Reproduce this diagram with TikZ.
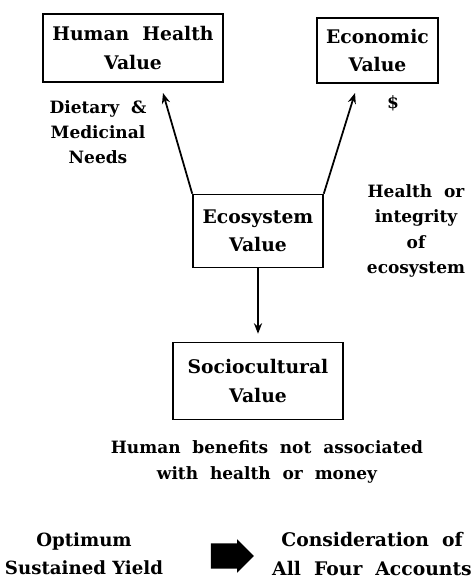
\documentclass[tikz,border=0pt]{standalone}
\usepackage{fontspec}
\setmainfont{DejaVu Serif}
\usetikzlibrary{arrows.meta,shapes.arrows}

\tikzset{
  valbox/.style={draw, line width=1.3pt, align=center, inner sep=0pt, font=\bfseries\fontsize{16}{24}\selectfont},
  note/.style={align=center, inner sep=0pt, font=\bfseries\fontsize{14.5}{21.6}\selectfont},
  link/.style={-{Stealth[length=9pt,width=7pt]}, line width=1.5pt}
}

\begin{document}
\begin{tikzpicture}[x=0.03cm, y=-0.03cm]
  % page size of the reference (in px)
  \useasboundingbox (0,0) rectangle (475,584);

  % the four accounts
  \node[valbox, minimum width=180*0.03cm, minimum height=68*0.03cm] (health) at (133,48) {Human\ \ Health\\Value};
  \node[valbox, minimum width=121*0.03cm, minimum height=65*0.03cm] (econ) at (377.5,50.5) {Economic\\Value};
  \node[valbox, minimum width=130*0.03cm, minimum height=73*0.03cm] (eco) at (258,231) {Ecosystem\\Value};
  \node[valbox, minimum width=170*0.03cm, minimum height=77*0.03cm] (socio) at (258,381) {Sociocultural\\Value};

  % arrow tips just below the upper boxes
  \coordinate (healthtip) at (163,93);
  \coordinate (econtip) at (355,93);

  \draw[link] (eco.north west) -- (healthtip);
  \draw[link] (eco.north east) -- (econtip);
  \draw[link, shorten >=8*0.03cm] (eco.south) -- (socio.north);

  % notes beside the boxes
  \node[note] (diet) at (98,132) {Dietary\ \ \&\\Medicinal\\Needs};
  \node[note] (money) at (393,103) {\$};
  \node[note] (integ) at (416,231) {Health\ \ or\\integrity\\of\\ecosystem};
  \node[note] (benefit) at (267,462) {Human\ \ benefits\ \ not\ \ associated\\with\ \ health\ \ or\ \ money};

  % bottom line
  \node[valbox, draw=none, font=\bfseries\fontsize{15.5}{24}\selectfont] (osy) at (84,554) {Optimum\\Sustained Yield};
  \node[single arrow, fill=black, minimum height=43*0.03cm, minimum width=33*0.03cm,
        single arrow head extend=4*0.03cm, inner xsep=0pt, inner ysep=12.5*0.03cm] (bigarrow) at (226,556) {};
  \node[valbox, draw=none] (four) at (372,554) {Consideration\ \ of\\All\ \ Four\ \ Accounts};
\end{tikzpicture}
\end{document}
